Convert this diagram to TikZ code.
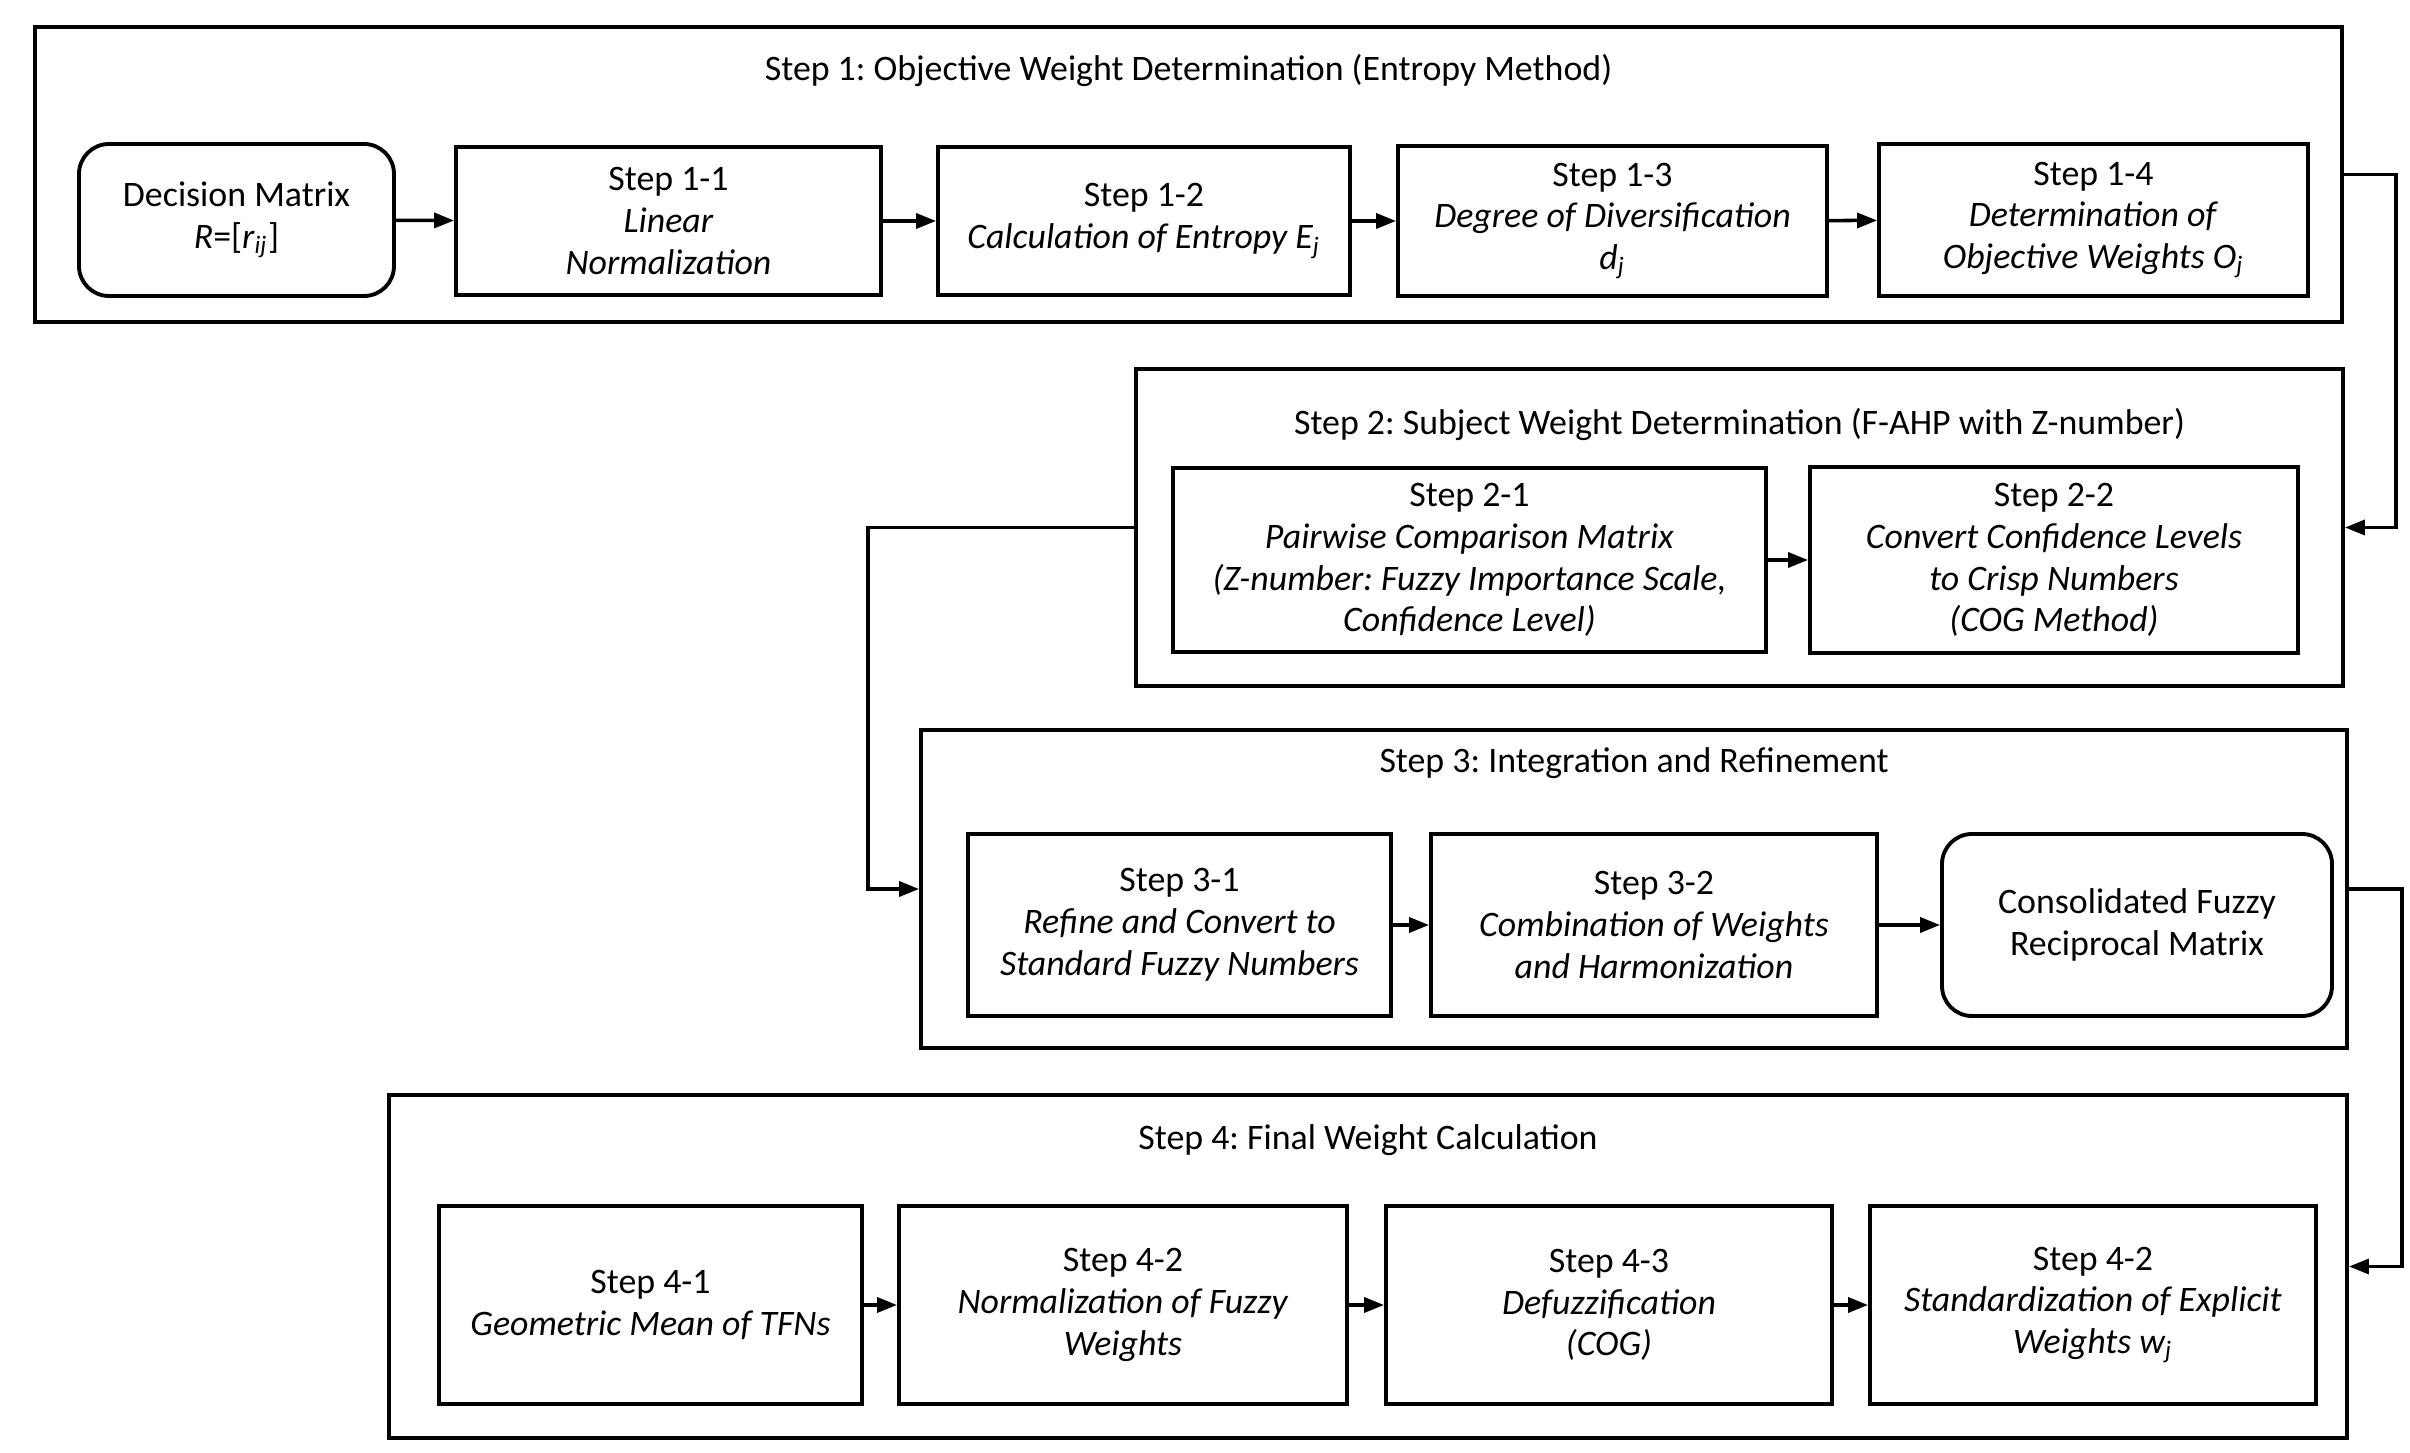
\documentclass[tikz,border=0pt]{standalone}
\usepackage{fontspec}
\setmainfont{Carlito}
\usetikzlibrary{arrows.meta}
\frenchspacing

\tikzset{
	stepbox/.style={draw, line width=1.1pt, align=center, inner sep=2pt, font=\fontsize{10.2}{11.9}\selectfont},
	roundbox/.style={stepbox, rounded corners=3mm},
	outerbox/.style={draw, line width=1.1pt, inner sep=0pt},
	steptitle/.style={font=\fontsize{10.2}{11.9}\selectfont},
	flow/.style={-{Triangle[length=2mm,width=1.5mm]}, line width=1pt}
}

\begin{document}
\begin{tikzpicture}

	\useasboundingbox (0,0) rectangle (24.10,-14.53);

	% outer frames of the four steps
	\node (S1)[outerbox, minimum width=23.07cm, minimum height=2.95cm] at (11.885,-1.745){};
	\node (S2)[outerbox, minimum width=12.07cm, minimum height=3.17cm] at (17.395,-5.275){};
	\node (S3)[outerbox, minimum width=14.26cm, minimum height=3.18cm] at (16.34,-8.89){};
	\node (S4)[outerbox, minimum width=19.58cm, minimum height=3.43cm] at (13.68,-12.665){};

	\node (T1)[steptitle] at (11.885,-0.70){Step 1: Objective Weight Determination (Entropy Method)};
	\node (T2)[steptitle] at (17.395,-4.24){Step 2: Subject Weight Determination (F-AHP with Z-number)};
	\node (T3)[steptitle] at (16.34,-7.63){Step 3: Integration and Refinement};
	\node (T4)[steptitle] at (13.68,-11.40){Step 4: Final Weight Calculation};

	% step 1
	\node (DM)[roundbox, minimum width=3.15cm, minimum height=1.52cm] at (2.365,-2.20){Decision Matrix\\\textit{R}=[\textit{r}\textsubscript{\textit{ij}}]};
	\node (S11)[stepbox, minimum width=4.25cm, minimum height=1.48cm] at (6.685,-2.21){Step 1-1\\\textit{Linear}\\\textit{Normalization}};
	\node (S12)[stepbox, minimum width=4.12cm, minimum height=1.48cm] at (11.44,-2.21){Step 1-2\\\textit{Calculation of Entropy E\textsubscript{j}}};
	\node (S13)[stepbox, minimum width=4.29cm, minimum height=1.50cm] at (16.125,-2.21){Step 1-3\\\textit{Degree of Diversification}\\\textit{d\textsubscript{j}}};
	\node (S14)[stepbox, minimum width=4.29cm, minimum height=1.52cm] at (20.935,-2.20){Step 1-4\\\textit{Determination of}\\\textit{Objective Weights O\textsubscript{j}}};

	% step 2
	\node (S21)[stepbox, minimum width=5.93cm, minimum height=1.84cm] at (14.695,-5.60){Step 2-1\\\textit{Pairwise Comparison Matrix}\\\textit{(Z-number: Fuzzy Importance Scale,}\\\textit{Confidence Level)}};
	\node (S22)[stepbox, minimum width=4.88cm, minimum height=1.86cm] at (20.54,-5.60){Step 2-2\\\textit{Convert Confidence Levels}\\\textit{to Crisp Numbers}\\\textit{(COG Method)}};

	% step 3
	\node (S31)[stepbox, minimum width=4.23cm, minimum height=1.82cm] at (11.795,-9.25){Step 3-1\\\textit{Refine and Convert to}\\\textit{Standard Fuzzy Numbers}};
	\node (S32)[stepbox, minimum width=4.46cm, minimum height=1.82cm] at (16.54,-9.25){Step 3-2\\\textit{Combination of Weights}\\\textit{and Harmonization}};
	\node (CFM)[roundbox, minimum width=3.90cm, minimum height=1.82cm] at (21.37,-9.25){Consolidated Fuzzy\\Reciprocal Matrix};

	% step 4
	\node (S41)[stepbox, minimum width=4.23cm, minimum height=1.98cm] at (6.505,-13.05){Step 4-1\\\textit{Geometric Mean of TFNs}};
	\node (S42)[stepbox, minimum width=4.48cm, minimum height=1.98cm] at (11.23,-13.05){Step 4-2\\\textit{Normalization of Fuzzy}\\\textit{Weights}};
	\node (S43)[stepbox, minimum width=4.46cm, minimum height=1.98cm] at (16.09,-13.05){Step 4-3\\\textit{Defuzzification}\\\textit{(COG)}};
	\node (S44)[stepbox, minimum width=4.46cm, minimum height=1.98cm] at (20.93,-13.05){Step 4-2\\\textit{Standardization of Explicit}\\\textit{Weights w\textsubscript{j}}};

	\draw [flow] (DM) to (S11);
	\draw [flow] (S11) to (S12);
	\draw [flow] (S12) to (S13);
	\draw [flow] (S13) to (S14);
	\draw [flow] (S21) to (S22);
	\draw [flow] (S31) to (S32);
	\draw [flow] (S32) to (CFM);
	\draw [flow] (S41) to (S42);
	\draw [flow] (S42) to (S43);
	\draw [flow] (S43) to (S44);

	% links between the steps
	\draw [flow] (S1.east) -- ++(0.52,0) |- (S2.east);
	\draw [flow] (S2.west) -- ++(-2.66,0) |- (S3.west);
	\draw [flow] (S3.east) -- ++(0.53,0) |- (S4.east);

\end{tikzpicture}
\end{document}
